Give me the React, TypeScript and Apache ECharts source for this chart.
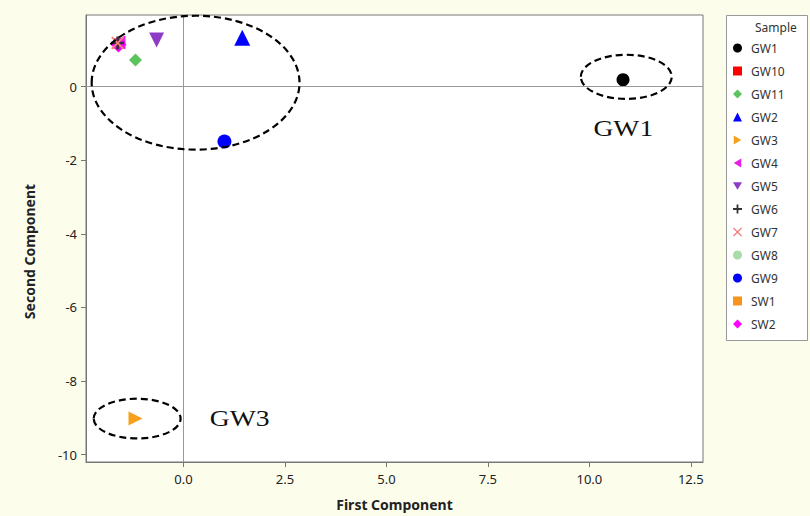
import React, { useEffect, useRef } from "react";
import * as echarts from "echarts";

const samples = ["GW1", "GW10", "GW11", "GW2", "GW3", "GW4", "GW5", "GW6", "GW7", "GW8", "GW9", "SW1", "SW2"];
const firstComponent = [10.83, -1.6, -1.18, 1.45, -1.18, -1.6, -0.66, -1.62, -1.62, -1.55, 1.01, -1.6, -1.6];
const secondComponent = [0.19, 1.18, 0.73, 1.33, -9.02, 1.2, 1.27, 1.19, 1.19, 1.15, -1.49, 1.17, 1.15];
const colors = ["#000000", "#ff0000", "#5cc45c", "#0000ff", "#f7a11a", "#e61ee6", "#8e3bc8", "#333333", "#f08080", "#a8dca8", "#0000ff", "#f7941d", "#ff00ff"];
const symbols = [
  "circle",
  "rect",
  "diamond",
  "triangle",
  "path://M0,0L10,6L0,12Z",
  "path://M10,0L0,6L10,12Z",
  "path://M0,0L12,0L6,10Z",
  "path://M4,0H6V4H10V6H6V10H4V6H0V4H4Z",
  "path://M1,0L5,4L9,0L10,1L6,5L10,9L9,10L5,6L1,10L0,9L4,5L0,1Z",
  "circle",
  "circle",
  "rect",
  "diamond",
];
const sizes = [13, 10, 13, 16, 14, 14, 15, 13, 13, 8, 14, 10, 16];
const xTicks = [0, 2.5, 5, 7.5, 10, 12.5];
const yTicks = [-10, -8, -6, -4, -2, 0];

// annotation ellipses (data coords): cx, cy, rx, ry
const ellipses = [
  [0.3, 0.11, 2.56, 1.82],
  [10.91, 0.27, 1.12, 0.6],
  [-1.14, -9.02, 1.07, 0.54],
];
const annotations = [
  { text: "GW1", x: 10.1, y: -1.12 },
  { text: "GW3", x: 0.65, y: -9.02 },
];

const zOrder: Record<string, number> = { GW10: 1, SW1: 1, GW4: 3, SW2: 3, GW6: 4, GW7: 4 };

export default function App() {
  const ref = useRef<HTMLDivElement>(null);
  useEffect(() => {
    document.body.style.margin = "0";
    const chart = echarts.init(ref.current!, null, { renderer: "svg" });
    const font = "Noto Sans";
    const series: any[] = samples.map((name, i) => ({
      name,
      type: "scatter",
      data: [[firstComponent[i], secondComponent[i]]],
      symbol: symbols[i],
      symbolSize: sizes[i],
      itemStyle: { color: colors[i], opacity: 1 },
      z: zOrder[name] ?? 2,
    }));
    series.push({
      type: "scatter",
      data: [],
      silent: true,
      z: 0,
      markLine: {
        silent: true,
        symbol: "none",
        label: { show: false },
        lineStyle: { color: "#999", type: "solid", width: 1 },
        data: [{ xAxis: 0 }, { yAxis: 0 }],
      },
    });
    chart.setOption({
      animation: false,
      backgroundColor: "#fdfdec",
      textStyle: { fontFamily: font },
      grid: {
        left: 86,
        right: 107,
        top: 15,
        bottom: 53,
        show: true,
        backgroundColor: "#ffffff",
        borderColor: "#777",
        borderWidth: 1,
      },
      xAxis: {
        type: "value",
        min: -2.4,
        max: 12.8,
        name: "First Component",
        nameLocation: "middle",
        nameGap: 35,
        nameTextStyle: { fontSize: 14, fontWeight: "bold", color: "#222", fontFamily: font },
        axisLine: { show: true, onZero: false, lineStyle: { color: "#777" } },
        axisTick: { show: true, length: 5, customValues: xTicks, lineStyle: { color: "#777" } },
        axisLabel: {
          customValues: xTicks,
          formatter: (v: number) => v.toFixed(1),
          fontSize: 13,
          color: "#222",
          margin: 10,
        },
        splitLine: { show: false },
      },
      yAxis: {
        type: "value",
        min: -10.2,
        max: 1.95,
        name: "Second Component",
        nameLocation: "middle",
        nameGap: 50,
        nameTextStyle: { fontSize: 14, fontWeight: "bold", color: "#222", fontFamily: font, padding: [0, 0, 0, -26] },
        axisLine: { show: true, onZero: false, lineStyle: { color: "#777" } },
        axisTick: { show: true, length: 5, customValues: yTicks, lineStyle: { color: "#777" } },
        axisLabel: { customValues: yTicks, fontSize: 13, color: "#222", margin: 9 },
        splitLine: { show: false },
      },
      legend: {
        orient: "vertical",
        left: 733,
        top: 42,
        padding: 0,
        itemWidth: 9,
        itemHeight: 9,
        itemGap: 11,
        textStyle: { fontSize: 12, color: "#333", fontFamily: font, padding: [0, 0, 0, 4] },
        data: samples,
      },
      series,
    });
    const px = (x: number, y: number) => chart.convertToPixel({ gridIndex: 0 }, [x, y]) as number[];
    const graphics: any[] = [
      {
        type: "rect",
        shape: { x: 726.5, y: 15.5, width: 81, height: 325 },
        style: { fill: "#ffffff", stroke: "#999", lineWidth: 1 },
        z: -1,
      },
      {
        type: "text",
        x: 755,
        y: 21,
        style: { text: "Sample", fontSize: 12, fill: "#333", fontFamily: font },
      },
    ];
    ellipses.forEach(([cx, cy, rx, ry]) => {
      const c = px(cx, cy);
      const e = px(cx + rx, cy + ry);
      graphics.push({
        type: "ellipse",
        shape: { cx: c[0], cy: c[1], rx: Math.abs(e[0] - c[0]), ry: Math.abs(e[1] - c[1]) },
        style: { fill: "none", stroke: "#000", lineWidth: 2.2, lineDash: [7, 4] },
        z: 10,
      });
    });
    annotations.forEach((a) => {
      const p = px(a.x, a.y);
      graphics.push({
        type: "text",
        x: p[0],
        y: p[1],
        scaleX: 1.15,
        style: {
          text: a.text,
          fontSize: 24,
          fontFamily: "Liberation Serif",
          fill: "#111",
          verticalAlign: "middle",
          align: "left",
        },
        z: 10,
      });
    });
    chart.setOption({ graphic: graphics });
    return () => chart.dispose();
  }, []);
  return <div ref={ref} style={{ width: 810, height: 516 }} />;
}
